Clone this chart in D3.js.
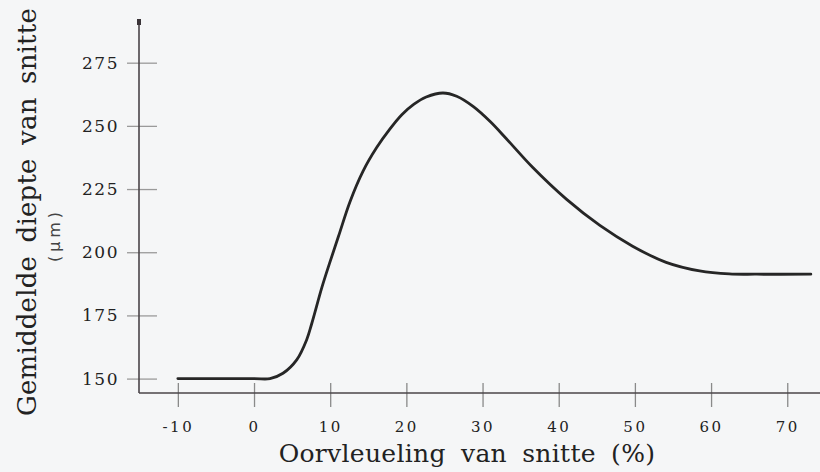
<!DOCTYPE html>
<html>
<head>
<meta charset="utf-8">
<script src="https://cdn.jsdelivr.net/npm/d3@7"></script>
<style>
  body { margin: 0; background: #f5f6f7; }
  svg { display: block; }
  .tick text { font-family: "DejaVu Serif", serif; fill: #222; }
</style>
</head>
<body>
<svg id="chart" width="820" height="472"></svg>
<script>
// Overlap (%) and mean cut depth (um)
const overlap = [-10, 0, 2.1, 3.8, 5.6, 6.9, 7.6, 8.9, 9.9, 11.1, 12.6, 14.3, 16.1, 17.8, 19.4, 21.0, 22.6, 24.8, 26.6, 28.8, 31.0, 33.1, 36.6, 41.0, 45.4, 49.7, 54.1, 58.5, 62.4, 66.0, 73.1];
const depth = [150, 150, 150, 152.1, 157.4, 165.3, 172.0, 186.0, 195.5, 206.4, 220.0, 232.0, 241.4, 248.6, 254.4, 258.6, 261.4, 263.0, 261.7, 257.6, 251.7, 245.0, 233.5, 221.0, 210.6, 202.4, 196.0, 192.6, 191.4, 191.3, 191.3];

const xTicks = [-10, 0, 10, 20, 30, 40, 50, 60, 70];
const yTicks = [150, 175, 200, 225, 250, 275];

const xTitle = "Oorvleueling van snitte (%)";
const yTitle = "Gemiddelde diepte van snitte";
const yUnit = "(\u00b5m)";

const plotLeft = 139, plotRight = 820, plotTop = 22, plotBottom = 393;

const svg = d3.select("#chart");

const x = d3.scaleLinear().domain([-15.1, 74.3]).range([plotLeft, plotRight]);
const y = d3.scaleLinear().domain([144.3, 291.1]).range([plotBottom, plotTop]);

// y axis
const yAxis = svg.append("g")
  .attr("transform", `translate(${plotLeft},0)`)
  .call(d3.axisLeft(y).tickValues(yTicks).tickFormat(d => String(d)));
yAxis.select(".domain").remove();
yAxis.selectAll(".tick line")
  .attr("x1", 18).attr("x2", -12)
  .attr("stroke", "#9a9a9a").attr("stroke-width", 1.3);
yAxis.selectAll(".tick text")
  .attr("x", -20)
  .attr("font-size", 17)
  .attr("letter-spacing", 1.5);

// x axis
const xAxis = svg.append("g")
  .attr("transform", `translate(0,${plotBottom})`)
  .call(d3.axisBottom(x).tickValues(xTicks).tickFormat(d => String(d)));
xAxis.select(".domain").remove();
xAxis.selectAll(".tick line")
  .attr("y1", -10).attr("y2", 14)
  .attr("stroke", "#8a8a8a").attr("stroke-width", 1.3);
xAxis.selectAll(".tick text")
  .attr("y", 39).attr("dy", null)
  .attr("font-size", 15)
  .attr("letter-spacing", 2.5);

// axis lines
svg.append("line")
  .attr("x1", plotLeft).attr("x2", plotLeft).attr("y1", plotTop).attr("y2", plotBottom)
  .attr("stroke", "#4a4448").attr("stroke-width", 1.6);
svg.append("line")
  .attr("x1", plotLeft).attr("x2", plotRight).attr("y1", plotBottom).attr("y2", plotBottom)
  .attr("stroke", "#4a4448").attr("stroke-width", 1.6);
svg.append("rect")
  .attr("x", plotLeft - 2).attr("y", plotTop - 3).attr("width", 4).attr("height", 6)
  .attr("fill", "#3a3438");

// curve
const line = d3.line()
  .x(d => x(d[0]))
  .y(d => y(d[1]))
  .curve(d3.curveCatmullRom.alpha(0.5));

svg.append("path")
  .datum(d3.zip(overlap, depth))
  .attr("fill", "none")
  .attr("stroke", "#262626")
  .attr("stroke-width", 2.8)
  .attr("stroke-linecap", "round")
  .attr("d", line);

// titles
svg.append("text")
  .attr("x", 467).attr("y", 462)
  .attr("text-anchor", "middle")
  .attr("font-family", "DejaVu Serif, serif")
  .attr("font-size", 25)
  .attr("letter-spacing", 0.3)
  .attr("word-spacing", 7)
  .attr("fill", "#222")
  .text(xTitle);

svg.append("text")
  .attr("transform", "translate(36,212) rotate(-90)")
  .attr("text-anchor", "middle")
  .attr("font-family", "DejaVu Serif, serif")
  .attr("font-size", 26)
  .attr("letter-spacing", 0.2)
  .attr("word-spacing", 5)
  .attr("fill", "#222")
  .text(yTitle);

svg.append("text")
  .attr("transform", "translate(60,237) rotate(-90)")
  .attr("text-anchor", "middle")
  .attr("font-family", "DejaVu Sans, sans-serif")
  .attr("font-size", 16)
  .attr("fill", "#444")
  .attr("textLength", 50)
  .attr("lengthAdjust", "spacing")
  .text(yUnit);
</script>
</body>
</html>
